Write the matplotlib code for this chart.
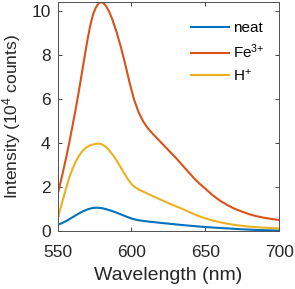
import matplotlib
matplotlib.use("Agg")
import matplotlib.pyplot as plt

plt.rcParams['font.family'] = ['Liberation Sans', 'DejaVu Sans']
plt.rcParams['mathtext.fontset'] = 'custom'
plt.rcParams['mathtext.rm'] = 'Liberation Sans'
plt.rcParams['mathtext.it'] = 'Liberation Sans:italic'
plt.rcParams['mathtext.bf'] = 'Liberation Sans:bold'

fe_x = [550, 553, 556, 558, 560, 562, 564, 566, 568, 570, 572, 574, 576, 578, 579.5, 581, 583, 585,
        587, 590, 593, 596, 599, 602, 605, 608, 611, 615, 620, 625, 630, 634, 638, 642, 646, 650,
        655, 660, 665, 670, 675, 680, 685, 690, 695, 700]
fe_y = [1.65, 2.5, 3.4, 4.05, 4.75, 5.45, 6.2, 7.0, 7.8, 8.6, 9.3, 9.85, 10.18, 10.37, 10.42, 10.38,
        10.22, 9.98, 9.65, 9.05, 8.35, 7.55, 6.7, 5.95, 5.4, 5.0, 4.7, 4.4, 4.05, 3.7, 3.35, 3.05,
        2.75, 2.45, 2.18, 1.95, 1.65, 1.4, 1.2, 1.03, 0.9, 0.78, 0.69, 0.62, 0.57, 0.52]

h_x = [550, 553, 556, 558, 560, 562, 564, 566, 568, 570, 572, 574, 576, 578, 580, 582, 584, 586, 588,
       590, 592, 594, 596, 598, 600, 602, 605, 609, 614, 620, 626, 630, 634, 638, 642, 646, 650, 655,
       660, 666, 672, 680, 688, 694, 700]
h_y = [0.55, 1.3, 2.0, 2.45, 2.82, 3.12, 3.38, 3.58, 3.73, 3.84, 3.91, 3.95, 3.98, 3.99, 3.96, 3.88,
       3.76, 3.6, 3.42, 3.22, 3.0, 2.77, 2.55, 2.34, 2.16, 2.03, 1.9, 1.78, 1.62, 1.44, 1.26, 1.15,
       1.04, 0.92, 0.8, 0.69, 0.6, 0.5, 0.42, 0.34, 0.28, 0.22, 0.18, 0.16, 0.14]

n_x = [550, 553, 556, 559, 562, 565, 568, 571, 574, 577, 580, 583, 586, 589, 592, 595, 598, 601, 604,
       608, 613, 620, 626, 635, 645, 655, 665, 675, 685, 692, 700]
n_y = [0.3, 0.38, 0.48, 0.6, 0.72, 0.84, 0.94, 1.02, 1.07, 1.08, 1.06, 1.01, 0.95, 0.88, 0.8, 0.72,
       0.64, 0.57, 0.52, 0.48, 0.44, 0.39, 0.35, 0.29, 0.23, 0.18, 0.14, 0.1, 0.07, 0.055, 0.04]

labels = ['neat', 'Fe$^{3{+}}$', 'H$^{+}$']
colors = ['#0072BD', '#D95319', '#EDB120']

fig = plt.figure(figsize=(2.95, 2.89), dpi=100)
ax = fig.add_axes([0.195, 0.199, 0.751, 0.794])
ax.plot(n_x, n_y, color=colors[0], lw=1.5, label=labels[0])
ax.plot(fe_x, fe_y, color=colors[1], lw=1.5, label=labels[1])
ax.plot(h_x, h_y, color=colors[2], lw=1.5, label=labels[2])

ax.set_xlim(550, 700)
ax.set_ylim(0, 10.42)
ax.set_xticks([550, 600, 650, 700])
ax.set_yticks([0, 2, 4, 6, 8, 10])
ax.tick_params(direction='in', top=True, right=True, labelsize=12.5, length=3, width=0.6,
               colors='#262626')
ax.tick_params(axis='x', pad=10)
ax.tick_params(axis='y', pad=5)
for s in ax.spines.values():
    s.set_linewidth(0.7)
    s.set_color('#505050')
ax.set_xlabel('Wavelength (nm)', fontsize=14, color='#262626', labelpad=4.5)
ax.set_ylabel('Intensity (10$^4$ counts)', fontsize=12.5, color='#262626', labelpad=6)

ax.legend(loc='upper left', frameon=False, fontsize=11, handlelength=2.5, handletextpad=0.25,
          borderaxespad=0.0, labelspacing=0.45, bbox_to_anchor=(0.573, 0.942))

fig.savefig('out.png', dpi=100)
